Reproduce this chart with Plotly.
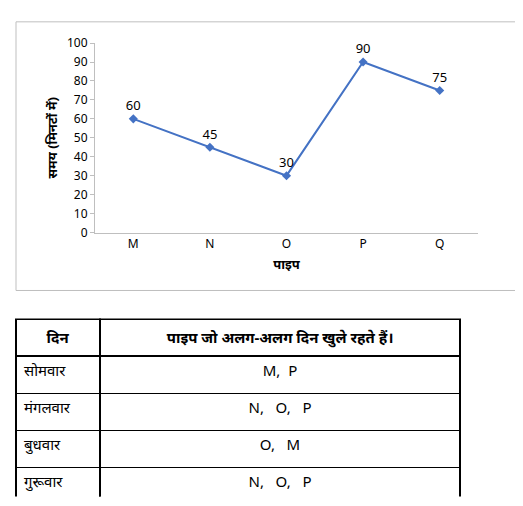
import plotly.graph_objects as go

pipes = ["M", "N", "O", "P", "Q"]
times = [60, 45, 30, 90, 75]
days = ["सोमवार", "मंगलवार", "बुधवार", "गुरूवार", "शुक्रवार"]
open_pipes = ["M,  P", "N,   O,   P", "O,   M", "N,   O,   P", "M,   Q"]
header = ["दिन", "पाइप जो अलग-अलग दिन खुले रहते हैं।"]

W, H = 523, 506
fig = go.Figure()
fig.add_trace(go.Scatter(
    x=pipes, y=times, mode="lines+markers+text",
    text=[str(v) for v in times], textposition="top center",
    textfont=dict(size=13, color="#000"),
    line=dict(color="#4472C4", width=2),
    marker=dict(symbol="diamond", size=7, color="#4472C4"),
    cliponaxis=False, showlegend=False))
fig.add_trace(go.Table(
    domain=dict(x=[8/W, 452/W], y=[9/H, 193/H]),
    columnwidth=[84, 360],
    header=dict(values=["<b>%s</b>" % h for h in header], height=32,
                line=dict(color="black", width=2), fill=dict(color="white"),
                align="center", font=dict(size=15, color="black")),
    cells=dict(values=[days, open_pipes], height=37,
               line=dict(color="black", width=1.5), fill=dict(color="white"),
               align=["left", "center"], font=dict(size=15, color="black"))))
fig.update_layout(
    width=W, height=H, margin=dict(l=0, r=0, t=0, b=0),
    paper_bgcolor="white", plot_bgcolor="white",
    font=dict(family="Noto Sans, DejaVu Sans, sans-serif", size=12, color="#000"),
    xaxis=dict(domain=[87/W, 470/W], range=[-0.5, 4.5], showline=True,
               linecolor="#bfbfbf", ticks="", showgrid=False,
               title=dict(text="<b>पाइप</b>", standoff=8, font=dict(size=13))),
    yaxis=dict(domain=[283/H, 479/H], range=[0, 100], dtick=10,
               showline=True, linecolor="#bfbfbf", ticks="outside",
               tickcolor="#bfbfbf", ticklen=4, showgrid=False,
               title=dict(text="<b>समय (मिनटों में)</b>", standoff=6, font=dict(size=13))),
    shapes=[dict(type="rect", xref="paper", yref="paper",
                 x0=8/W, x1=513/W, y0=(H-283)/H, y1=(H-5)/H,
                 line=dict(color="#bfbfbf", width=1))])
fig.write_html("out.html")
